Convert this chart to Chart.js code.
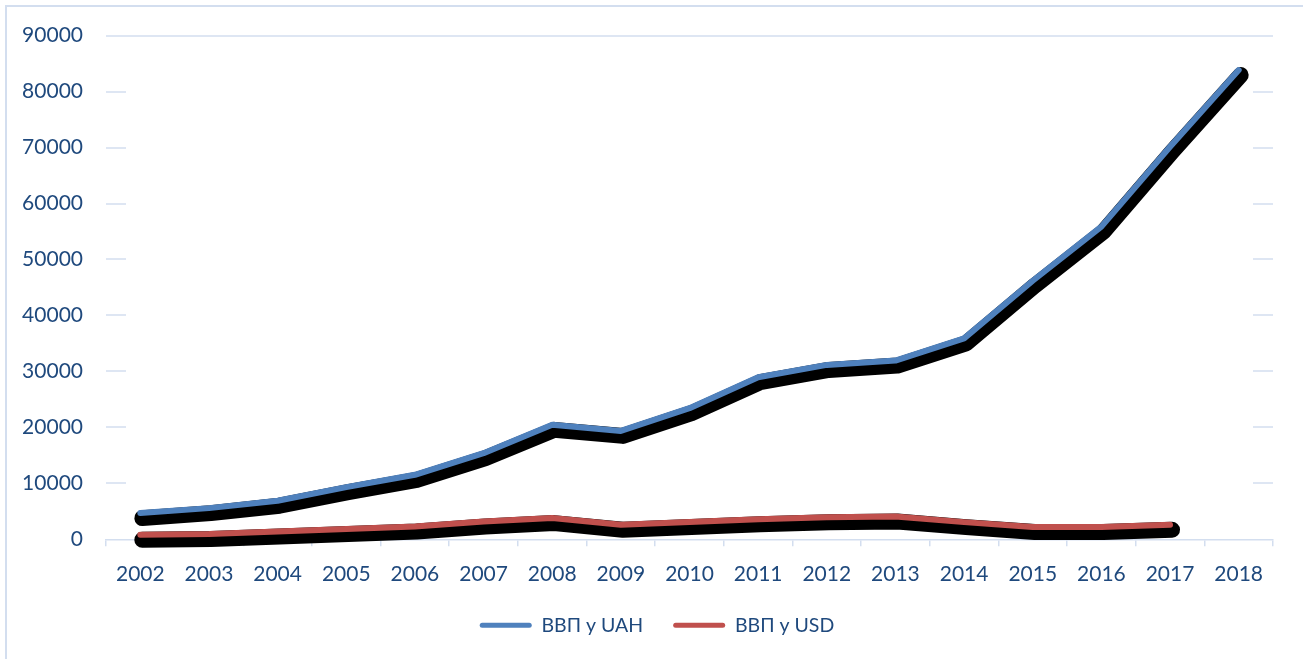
<!DOCTYPE html>
<html lang="uk">
<head>
<meta charset="UTF-8">
<title>ВВП</title>
<style>
  html, body { margin: 0; padding: 0; background: #fff; }
  #wrap { width: 1303px; height: 659px; }
</style>
</head>
<body>
<div id="wrap"><canvas id="myChart"></canvas></div>
<script src="https://cdn.jsdelivr.net/npm/chart.js"></script>
<script>
const years = ['2002', '2003', '2004', '2005', '2006', '2007', '2008', '2009', '2010',
               '2011', '2012', '2013', '2014', '2015', '2016', '2017', '2018'];
const gdpUah = [4680, 5570, 6900, 9320, 11520, 15390, 20450, 19370, 23430,
                28960, 31160, 31930, 35900, 46200, 55860, 70140, 83840];
const gdpUsd = [800, 930, 1390, 1820, 2290, 3180, 3790, 2590, 3070,
                3600, 3960, 4070, 3070, 2180, 2180, 2590, null];
const seriesNames = ['ВВП у UAH', 'ВВП у USD'];
const yTicks = [0, 10000, 20000, 30000, 40000, 50000, 60000, 70000, 80000, 90000];

const textColor = '#1F497D';
const gridColor = '#D3DEEF';
const fontFamily = 'Lato, "Open Sans", sans-serif';

// frame, short grid stubs and the black shadow under the lines
const decor = {
  id: 'decor',
  beforeDraw(chart) {
    const c = chart.ctx;
    c.save();
    c.strokeStyle = gridColor;
    c.lineWidth = 2;
    c.strokeRect(6, 6, chart.width - 5, chart.height + 10);
    c.restore();
  },
  beforeDatasetsDraw(chart) {
    const c = chart.ctx;
    const a = chart.chartArea;
    const y = chart.scales.y;
    c.save();
    c.fillStyle = gridColor;
    y.ticks.forEach(t => {
      if (t.value === 0) return;
      const py = Math.round(y.getPixelForValue(t.value));
      if (t.value === y.max) {
        c.fillRect(a.left, py - 0.75, a.right - a.left, 1.5);
      } else {
        c.fillRect(a.left, py - 0.75, 20, 1.5);
        c.fillRect(a.right - 20, py - 0.75, 20, 1.5);
      }
    });
    c.strokeStyle = '#000';
    c.lineWidth = 16;
    c.lineCap = 'round';
    c.lineJoin = 'round';
    chart.data.datasets.forEach((ds, i) => {
      const pts = chart.getDatasetMeta(i).data;
      c.beginPath();
      let started = false;
      pts.forEach((p, j) => {
        if (ds.data[j] == null) return;
        if (!started) { c.moveTo(p.x + 2, p.y + 5); started = true; }
        else c.lineTo(p.x + 2, p.y + 5);
      });
      c.stroke();
    });
    c.restore();
  }
};

const ctx = document.getElementById('myChart');
const chart = new Chart(ctx, {
  type: 'line',
  data: {
    labels: years,
    datasets: [{
      label: seriesNames[0],
      data: gdpUah,
      borderColor: '#4F81BD',
      backgroundColor: '#4F81BD'
    }, {
      label: seriesNames[1],
      data: gdpUsd,
      borderColor: '#C0504D',
      backgroundColor: '#C0504D'
    }]
  },
  options: {
    responsive: true,
    maintainAspectRatio: false,
    animation: false,
    layout: { padding: { top: 35, right: 0, left: 11, bottom: 14 } },
    elements: {
      line: { borderWidth: 6, tension: 0, borderCapStyle: 'round', borderJoinStyle: 'round' },
      point: { radius: 0, hoverRadius: 0 }
    },
    scales: {
      x: {
        offset: true,
        afterFit(scale) { scale.height = scale.height - 16; },
        grid: { display: true, offset: true, drawOnChartArea: false, tickLength: 7, color: gridColor, lineWidth: 1.5 },
        border: { display: true, color: gridColor, width: 1.5 },
        ticks: { color: textColor, font: { family: fontFamily, size: 21 }, padding: 15, maxRotation: 0 }
      },
      y: {
        min: 0,
        max: 90000,
        afterBuildTicks(scale) { scale.ticks = yTicks.map(v => ({ value: v })); },
        afterFit(scale) { scale.width = 95; },
        grid: { display: false, drawOnChartArea: false, drawTicks: false },
        border: { display: false },
        ticks: { color: textColor, font: { family: fontFamily, size: 21 }, padding: 23, callback: v => String(v) }
      },
      // empty right axis, only keeps the plot clear of the right edge
      yRight: {
        position: 'right',
        min: 0,
        max: 90000,
        afterFit(scale) { scale.width = 30; },
        grid: { display: false, drawOnChartArea: false, drawTicks: false },
        border: { display: false },
        ticks: { display: false }
      }
    },
    plugins: {
      tooltip: { enabled: false },
      legend: {
        position: 'bottom',
        labels: {
          color: textColor,
          font: { family: fontFamily, size: 19.5 },
          boxWidth: 52,
          boxHeight: 5,
          useBorderRadius: true,
          borderRadius: 2.5,
          padding: 30,
          generateLabels(chart) {
            return Chart.defaults.plugins.legend.labels.generateLabels(chart)
              .map(l => Object.assign(l, { lineWidth: 0 }));
          }
        }
      }
    }
  },
  plugins: [decor]
});
</script>
</body>
</html>
